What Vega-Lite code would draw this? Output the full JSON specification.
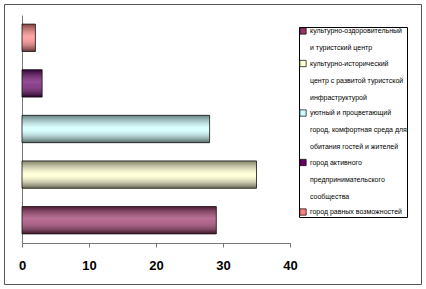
{
  "$schema": "https://vega.github.io/schema/vega-lite/v6.json",
  "autosize": {"type": "none"},
  "width": 417,
  "height": 280,
  "padding": {"left": 4, "top": 4, "right": 5, "bottom": 5},
  "background": "white",
  "data": {
    "values": [
      {"name": "культурно-оздоровительный\nи туристский центр", "value": 29},
      {"name": "культурно-исторический\nцентр с развитой туристской\nинфраструктурой", "value": 35},
      {"name": "уютный и процветающий\nгород, комфортная среда для\nобитания гостей и жителей", "value": 28},
      {"name": "город активного\nпредпринимательского\nсообщества", "value": 3},
      {"name": "город равных возможностей", "value": 2}
    ]
  },
  "encoding": {
    "x": {
      "field": "value", "type": "quantitative",
      "scale": {"domain": [0, 40], "range": [18, 286], "nice": false, "zero": true},
      "axis": {
        "title": null, "values": [0, 10, 20, 30, 40], "grid": false,
        "offset": -41, "tickSize": 4, "labelPadding": 12, "labelFlush": false,
        "labelFont": "Liberation Sans", "labelFontSize": 13, "labelFontWeight": "bold",
        "labelColor": "#000", "domainColor": "#777", "tickColor": "#777"
      }
    },
    "y": {
      "field": "name", "type": "nominal",
      "sort": [
        "город равных возможностей",
        "город активного\nпредпринимательского\nсообщества",
        "уютный и процветающий\nгород, комфортная среда для\nобитания гостей и жителей",
        "культурно-исторический\nцентр с развитой туристской\nинфраструктурой",
        "культурно-оздоровительный\nи туристский центр"
      ],
      "scale": {"range": [11, 239], "paddingInner": 0.4, "paddingOuter": 0.2},
      "axis": {"title": null, "labels": false, "ticks": false, "offset": -18, "domainColor": "#777"}
    }
  },
  "layer": [
    {
      "mark": {"type": "bar"},
      "encoding": {
        "color": {
          "field": "name", "type": "nominal",
          "scale": {
            "domain": [
              "культурно-оздоровительный\nи туристский центр",
              "культурно-исторический\nцентр с развитой туристской\nинфраструктурой",
              "уютный и процветающий\nгород, комфортная среда для\nобитания гостей и жителей",
              "город активного\nпредпринимательского\nсообщества",
              "город равных возможностей"
            ],
            "range": ["#993366", "#FFFFCC", "#CCFFFF", "#660066", "#FF8080"]
          },
          "legend": {
            "title": null,
            "orient": "none", "legendX": 295, "legendY": 23,
            "symbolType": "square", "symbolSize": 40, "symbolStrokeColor": "#000", "symbolStrokeWidth": 0.7,
            "symbolOpacity": 1,
            "labelFont": "Liberation Sans", "labelFontSize": 7, "labelColor": "#000",
            "labelLimit": 200, "labelOffset": 3,
            "labelExpr": "split(datum.label, '\\n')",
            "rowPadding": 7.5,
            "padding": {"left": 5, "right": 5, "top": 5, "bottom": 10},
            "strokeColor": "#000", "fillColor": "white"
          }
        }
      }
    },
    {
      "mark": {
        "type": "bar",
        "fill": {
          "gradient": "linear", "x1": 0, "y1": 0, "x2": 0, "y2": 1,
          "stops": [
            {"offset": 0, "color": "rgba(0,0,0,0.5)"},
            {"offset": 0.45, "color": "rgba(255,255,255,0.3)"},
            {"offset": 0.55, "color": "rgba(255,255,255,0.25)"},
            {"offset": 1, "color": "rgba(0,0,0,0.6)"}
          ]
        },
        "stroke": "#111", "strokeWidth": 0.8
      }
    }
  ],
  "config": {
    "view": {"stroke": "#555", "strokeWidth": 1},
    "style": {"guide-label": {"lineHeight": 17}}
  }
}
